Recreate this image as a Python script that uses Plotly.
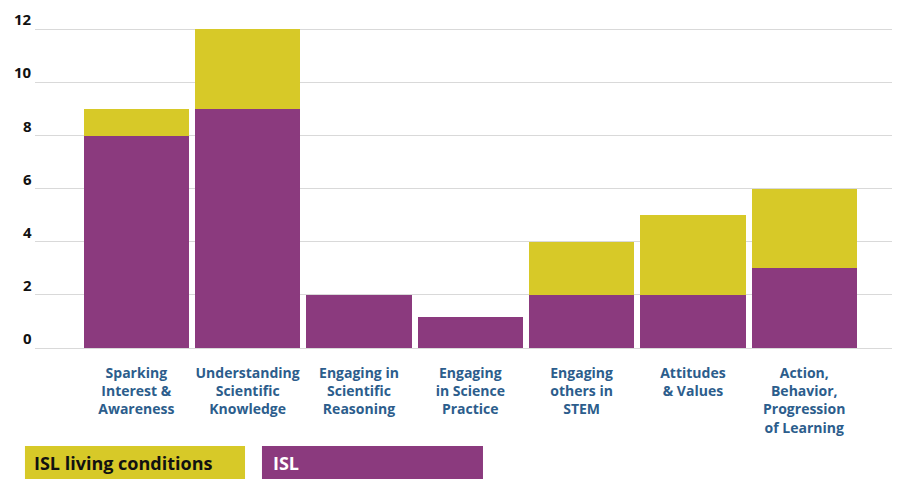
import plotly.graph_objects as go

categories = [
    "Sparking<br>Interest &<br>Awareness",
    "Understanding<br>Scientific<br>Knowledge",
    "Engaging in<br>Scientific<br>Reasoning",
    "Engaging<br>in Science<br>Practice",
    "Engaging<br>others in<br>STEM",
    "Attitudes<br>& Values",
    "Action,<br>Behavior,<br>Progression<br>of Learning",
]
isl = [8, 9, 2, 1.15, 2, 2, 3]
isl_living = [1, 3, 0, 0, 2, 3, 3]
y_ticks = [0, 2, 4, 6, 8, 10, 12]

series_names = ["ISL living conditions", "ISL"]
series_colors = ["#d7c928", "#8b3a7e"]
series_text_colors = ["#111111", "#ffffff"]

fig = go.Figure()
fig.add_trace(go.Bar(x=categories, y=isl, name="ISL", marker_color=series_colors[1],
                     marker_line_width=0, showlegend=False))
fig.add_trace(go.Bar(x=categories, y=isl_living, name="ISL living conditions",
                     marker_color=series_colors[0], marker_line_width=0, showlegend=False))

# y tick labels drawn above their gridlines
for v in y_ticks:
    fig.add_annotation(text=str(v), xref="paper", yref="y", x=0, y=v,
                       xanchor="right", yanchor="middle", xshift=-2, yshift=10,
                       showarrow=False, borderpad=0,
                       font=dict(family="Open Sans", size=15, color="#111111", weight="bold"))

# custom legend boxes (paper coords; plot area is 340 px tall)
ph = 340.0
def py(screen_y):
    return (348 - screen_y) / ph

box_x = [(-0.0116, 0.2428), (0.2624, 0.5179)]
text_x = [-0.0034, 0.2728]
for name, col, tcol, (x0, x1), tx in zip(series_names, series_colors, series_text_colors, box_x, text_x):
    fig.add_shape(type="rect", xref="paper", yref="paper", x0=x0, x1=x1, y0=py(479), y1=py(446),
                  fillcolor=col, line_width=0, layer="above")
    fig.add_annotation(text=name, xref="paper", yref="paper", x=tx, y=py(463),
                       xanchor="left", yanchor="middle", showarrow=False,
                       font=dict(family="Open Sans", size=18, color=tcol, weight="bold"))

fig.update_layout(
    barmode="stack",
    bargap=0.055,
    width=900, height=486,
    margin=dict(l=27, r=8, t=0, b=146),
    plot_bgcolor="white", paper_bgcolor="white",
    xaxis=dict(
        type="category", range=[-0.91, 6.86], showgrid=False, showline=False,
        tickfont=dict(family="Open Sans", size=14, color="#2c5d8c", weight="bold"),
        ticks="", ticklabelstandoff=15,
    ),
    yaxis=dict(
        range=[0, 12.8], tickvals=y_ticks, showgrid=True, gridcolor="#d9d9d9", gridwidth=1,
        zeroline=True, zerolinecolor="#d9d9d9", zerolinewidth=1,
        showticklabels=False, ticks="",
    ),
)

fig.write_html("out.html")
